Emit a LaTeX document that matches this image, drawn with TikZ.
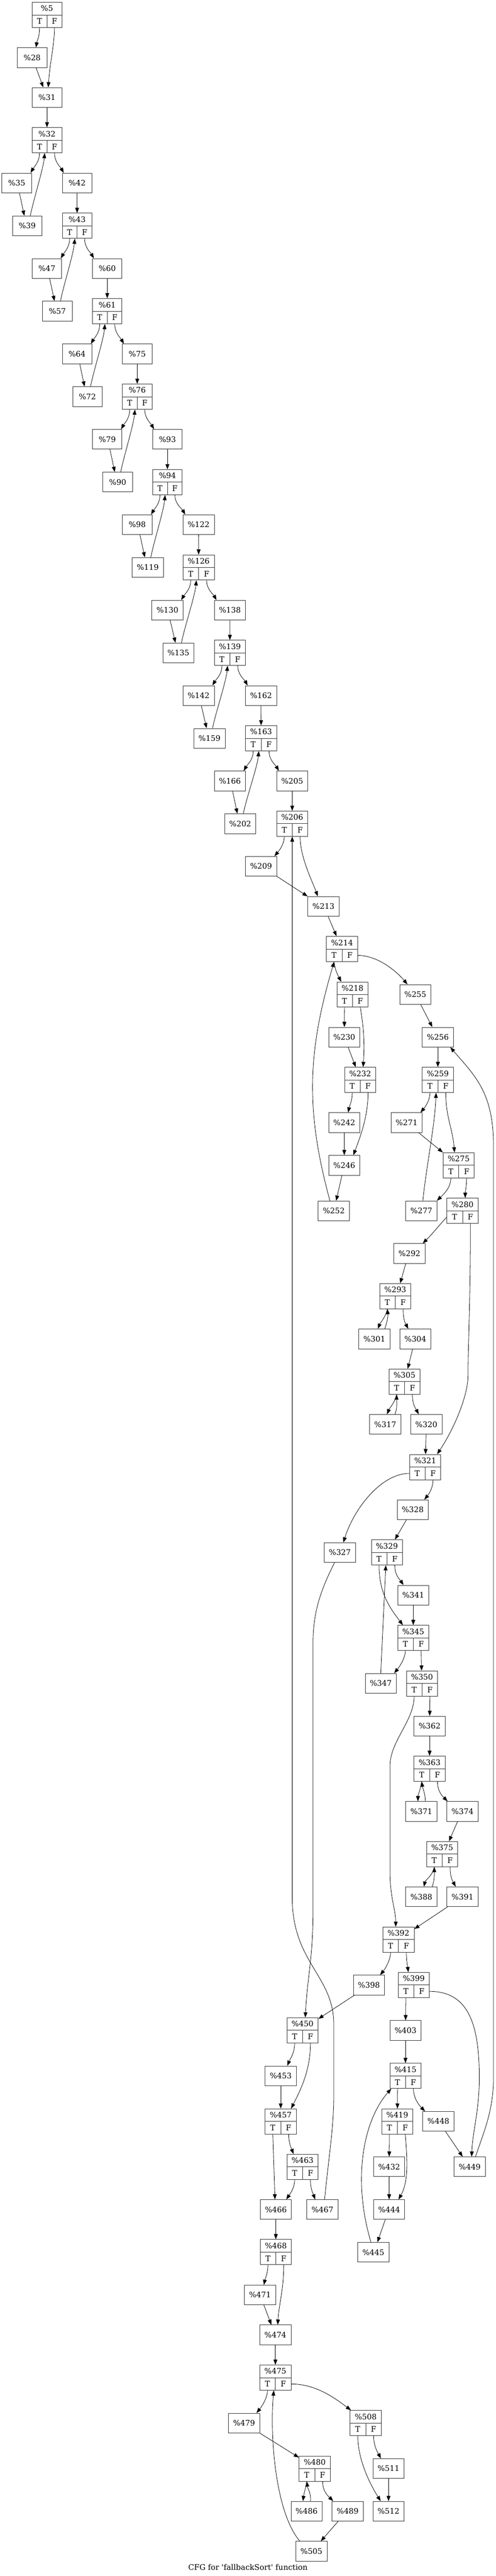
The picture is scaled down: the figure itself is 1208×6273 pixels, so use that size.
\documentclass[tikz,border=0pt]{standalone}
\usepackage{fontspec}
\setmainfont{DejaVu Serif}
\usetikzlibrary{arrows.meta, calc}

\begin{document}
\begin{tikzpicture}[x = 0.75pt, y = -0.75pt, line width = 0.75pt,
	> = {Triangle[length = 9.5pt, width = 7pt]},
	font = \fontsize{14pt}{16pt}\selectfont,
	blk/.style = {draw = black!80, rectangle, minimum width = 54pt, minimum height = 36pt, inner xsep = 8.5pt, inner ysep = 0pt},
	rec/.style = {draw = black!80, rectangle, minimum height = 46pt, inner sep = 0pt}]

\useasboundingbox (0, 0) rectangle (1208, 6273);

\foreach \n/\px/\py in {28/78.3/140.3, 31/114.5/237.3, 35/40.8/445.5, 42/187.8/445.5, 39/66.3/550,
	47/114.3/653.7, 60/261.2/653.7, 57/139.8/757.6, 64/187.7/861.9, 75/334.3/861.9, 72/213/965.8,
	79/261.2/1069.7, 93/407.8/1069.7, 90/286.6/1173.8, 98/334.3/1277.6, 122/483.8/1277.6,
	119/359.8/1381.8, 130/407.8/1485.8, 138/560/1485.8, 135/434.5/1589.8, 142/483.8/1693.8,
	162/635.8/1693.8, 159/510.3/1797.9, 166/559.9/1901.7, 205/711.8/1901.7, 202/585.2/2005.8,
	209/635.9/2109.6, 213/787.9/2207.3, 255/1011.7/2421.7, 230/838.6/2525.6, 256/1066.6/2525.6,
	242/838.6/2733.7, 271/990.5/2733.7, 246/838.6/2837.6, 252/813.1/2948.6, 277/1026.5/2948.6,
	292/997.3/3052.4, 301/911.9/3260.4, 304/1011.7/3260.4, 317/938.4/3468.5, 320/1038.5/3468.5,
	328/1005.3/3676.4, 327/827.9/3780.7, 341/1006.6/3884.4, 347/927.5/4099.1, 362/1046.4/4203.1,
	371/1026.5/4410.9, 374/1126.6/4410.9, 388/1026.5/4619, 391/1126.6/4619, 398/898.6/4833.9,
	403/987.7/4944.3, 453/683.8/5055.1, 448/1067.9/5165.8, 432/947.9/5276.4, 449/1144.1/5276.4,
	466/671.9/5380.6, 467/785.4/5380.6, 444/947.9/5380.6, 445/909.3/5484.7, 471/633.4/5588.6,
	474/670.8/5685.7, 479/594.4/5900.5, 511/946.4/6011.3, 486/746.8/6115.1, 489/846.7/6115.1,
	512/946.4/6115.1, 505/758.6/6212.6}
	\node [blk] (n\n) at (\px, \py) {\%\n};

\foreach \n/\px/\py/\w in {5/114.5/36.3/54, 32/114.5/341.5/54, 43/187.8/549.9/54, 61/261.2/757.8/54,
	76/334.3/966/54, 94/407.8/1174.1/54, 126/483.9/1381.8/57, 139/559.9/1589.9/57, 163/636/1797.8/57,
	206/711.8/2005.8/57, 214/833.1/2311/57, 218/858.5/2421.9/57, 232/877.3/2629.8/57, 259/1066.6/2629.8/57,
	275/1117.3/2837.6/57, 280/1126.6/2948.4/57, 293/962.8/3156.3/57, 305/985.3/3364.4/57, 321/1035.7/3572.4/57,
	329/942.5/3780.3/57, 345/1006.6/3988.5/57, 350/1028/4099.4/57, 363/1046.4/4307/57, 375/1077.1/4515/57,
	392/970.6/4723.3/57, 399/1007.9/4833.7/57, 450/737/4944.1/57, 415/987.7/5055/57, 457/683.8/5166/57,
	419/967.8/5166/57, 463/737/5276.6/57, 468/671.9/5484.1/57, 475/670.8/5789.8/57, 508/890.8/5900.4/57,
	480/766.6/6011.4/57} {
	\node [rec, minimum width = \w pt] (n\n) at (\px, \py) {};
	\draw [black!80] (n\n.west) -- (n\n.east) (n\n.center) -- (n\n.south);
	\node at ($(n\n.north)!0.5!(n\n.center)$) {\%\n};
	\node at ($(n\n.west)!0.5!(n\n.south)$) {T};
	\node at ($(n\n.east)!0.5!(n\n.south)$) {F};
	\coordinate (n\n-T) at ($(n\n.south west)!0.5!(n\n.south)$);
	\coordinate (n\n-F) at ($(n\n.south)!0.5!(n\n.south east)$);
	\coordinate (n\n-Tw) at ($(n\n.west)!0.5!(n\n.south west)$);
	\coordinate (n\n-Fe) at ($(n\n.east)!0.5!(n\n.south east)$);
}

\draw [->] (n5-T) .. controls +(0, 25) and +(3, -20) .. (n28.69);
\draw [->] (n5-F) .. controls +(0, 40) and +(4, -60) .. (n31.83);
\draw [->] (n28.-69) -- (n31.110);
\draw [->] (n31) -- (n32);

\foreach \rr/\ta/\bk/\fc/\nx in {32/35/39/42/43, 43/47/57/60/61, 61/64/72/75/76, 76/79/90/93/94,
	94/98/119/122/126, 126/130/135/138/139, 139/142/159/162/163, 163/166/202/205/206} {
	\draw [->] (n\rr-T) .. controls +(0, 22) and +(8, -14) .. (n\ta.36);
	\draw [->] (n\rr-F) .. controls +(0, 22) and +(-8, -14) .. (n\fc.143);
	\draw [->] (n\ta.-75) -- (n\bk.106);
	\draw [->] (n\bk.73) .. controls +(8, -40) and +(-4, 40) .. (n\rr.-100);
	\draw [->] (n\fc) -- (n\nx);
}

\draw [->] (n206-T) .. controls +(0, 20) and +(10, -12) .. (n209.37);
\draw [->] (n206-F) .. controls +(0, 50) and +(-15, -40) .. (n213.119);
\draw [->] (n209.south east) -- (n213.north west);
\draw [->] (n213.-65) -- (n214.113);
\draw [->] (n214-T) .. controls +(2, 20) and +(-8, -15) .. (n218.131);
\draw [->] (n214-Fe) .. controls +(50, 0) and +(-25, -30) .. (n255.128);
\draw [->] (n218-T) -- (n230);
\draw [->] (n218-F) .. controls +(8, 50) and +(4, -60) .. (n232.77);
\draw [->] (n230.-69) -- (n232.109);
\draw [->] (n232-T) .. controls +(0, 20) and +(3, -15) .. (n242.69);
\draw [->] (n232-F) .. controls +(0, 60) and +(15, -40) .. (n246.48);
\draw [->] (n242) -- (n246);
\draw [->] (n246.-103) -- (n252.77);
\draw [->] (n252.111) .. controls +(-60, -220) and +(-65, 220) .. (n214-T);
\draw [->] (n255.-62) -- (n256.119);
\draw [->] (n256) -- (n259);
\draw [->] (n259-T) .. controls +(0, 20) and +(10, -12) .. (n271.36);
\draw [->] (n259-F) .. controls +(0, 60) and +(-5, -60) .. (n275.108);
\draw [->] (n271.-40) -- (n275.north west);
\draw [->] (n275-T) .. controls +(0, 25) and +(15, -15) .. (n277.33);
\draw [->] (n275-F) .. controls +(0, 20) and +(0, -15) .. (n280.78);
\draw [->] (n277.82) .. controls +(8, -80) and +(-3, 80) .. (n259.-98);
\draw [->] (n280-Tw) .. controls +(-10, 10) and +(25, -25) .. (n292.37);
\draw [->] (n280-F) .. controls +(0, 200) and +(0, -80) .. (1140, 3350) .. controls +(0, 50) and +(40, -60) .. (n321.47);
\draw [->] (n292.-110) -- (n293.69);
\draw [->] (n293-T) .. controls +(-4, 20) and +(6, -15) .. (n301.71);
\draw [->] (n301.44) .. controls +(5, -15) and +(2, 20) .. (n293-T);
\draw [->] (n293-F) .. controls +(0, 25) and +(-8, -15) .. (n304.125);
\draw [->] (n304.-105) -- (n305.76);
\draw [->] (n305-T) .. controls +(-4, 20) and +(6, -15) .. (n317.80);
\draw [->] (n317.46) .. controls +(6, -15) and +(0, 18) .. (n305-T);
\draw [->] (n305-F) .. controls +(0, 25) and +(-8, -15) .. (n320.127);
\draw [->] (n320) -- (n321);
\draw [->] (n321-Tw) .. controls +(-70, 0) and +(25, -80) .. (n327.71);
\draw [->] (n321-F) .. controls +(0, 20) and +(10, -12) .. (n328.41);
\draw [->] (n328.-122) -- (n329.58);
\draw [->] (n329-T) .. controls +(0, 70) and +(-30, -40) .. (n345.129);
\draw [->] (n329-F) .. controls +(0, 25) and +(-10, -15) .. (n341.134);
\draw [->] (n341) -- (n345);
\draw [->] (n345-T) .. controls +(0, 20) and +(10, -12) .. (n347.37);
\draw [->] (n345-F) -- (n350.92);
\draw [->] (n347.north) -- (n329.265);
\draw [->] (n350-T) .. controls +(0, 60) and +(0, -60) .. (950, 4300) -- (950, 4560) .. controls +(0, 60) and +(0, -40) .. (n392.102);
\draw [->] (n350-F) -- (n362);
\draw [->] (n362) -- (n363);
\draw [->] (n363-T) .. controls +(-3, 20) and +(0, -15) .. (n371.109);
\draw [->] (n371.69) .. controls +(0, -20) and +(2, 15) .. (n363-T);
\draw [->] (n363-F) .. controls +(0, 25) and +(-12, -12) .. (n374.146);
\draw [->] (n374.-116) -- (n375.62);
\draw [->] (n375-T) .. controls +(-3, 20) and +(3, -15) .. (n388.76);
\draw [->] (n388.43) .. controls +(6, -18) and +(0, 18) .. (n375-T);
\draw [->] (n375-F) .. controls +(0, 25) and +(-8, -15) .. (n391.124);
\draw [->] (n391.-146) -- (n392.34);
\draw [->] (n392-T) .. controls +(0, 20) and +(10, -12) .. (n398.42);
\draw [->] (n392-F) .. controls +(0, 20) and +(-2, -15) .. (n399.113);
\draw [->] (n398.-145) -- (n450.36);
\draw [->] (n327.-118) .. controls +(-30, 60) and +(0, -80) .. (762.5, 4000) -- (762.5, 4650) .. controls +(0, 120) and +(5, -100) .. (n450.78);
\draw [->] (n399-T) -- (n403);
\draw [->] (n399-Fe) .. controls +(95, 0) and +(0, -130) .. (1167.5, 5060) .. controls +(0, 80) and +(2, -60) .. (n449.79);
\draw [->] (n403) -- (n415);
\draw [->] (n415-T) -- (n419);
\draw [->] (n415-F) .. controls +(0, 25) and +(-12, -12) .. (n448.143);
\draw [->] (n445.103) .. controls +(-45, -150) and +(-70, 80) .. (n415.-138);
\draw [->] (n419-T) -- (n432);
\draw [->] (n419-F) .. controls +(5, 60) and +(25, -45) .. (n444.47);
\draw [->] (n432) -- (n444);
\draw [->] (n444.-111) -- (n445.68);
\draw [->] (n448.-55) -- (n449.125);
\draw [->] (n449.60) .. controls +(20, -60) and +(0, 80) .. (1202, 5060) -- (1202, 2790) .. controls +(0, -130) and +(60, 70) .. (n256.-39);
\draw [->] (n450-T) .. controls +(0, 25) and +(6, -15) .. (n453.57);
\draw [->] (n450-F) .. controls +(0, 70) and +(20, -40) .. (n457.51);
\draw [->] (n453) -- (n457);
\draw [->] (n457-T) -- (n466.95);
\draw [->] (n457-F) .. controls +(0, 20) and +(-6, -15) .. (n463.125);
\draw [->] (n463-T) .. controls +(0, 20) and +(10, -15) .. (n466.44);
\draw [->] (n463-F) .. controls +(0, 25) and +(-5, -15) .. (n467.126);
\draw [->] (n467.78) .. controls +(12, -120) and +(0, 80) .. (813, 5100) -- (813, 4930) .. controls +(0, -120) and +(0, 160) .. (711.8, 4620) -- (n206.south);
\draw [->] (n466) -- (n468);
\draw [->] (n468-T) .. controls +(0, 20) and +(3, -15) .. (n471.69);
\draw [->] (n468-F) .. controls +(0, 60) and +(3, -50) .. (n474.77);
\draw [->] (n471.-69) -- (n474.112);
\draw [->] (n474) -- (n475);
\draw [->] (n475-T) .. controls +(0, 20) and +(10, -12) .. (n479.39);
\draw [->] (n475-Fe) .. controls +(60, 0) and +(-40, -30) .. (n508.139);
\draw [->] (n479.south east) -- (n480.145);
\draw [->] (n480-T) .. controls +(-4, 20) and +(2, -15) .. (n486.110);
\draw [->] (n486.69) .. controls +(2, -20) and +(2, 18) .. (n480-T);
\draw [->] (n480-F) .. controls +(0, 25) and +(-12, -12) .. (n489.145);
\draw [->] (n489.-133) -- (n505.47);
\draw [->] (n505.139) .. controls +(-60, -70) and +(-10, 110) .. (n475.-97);
\draw [->] (n508-T) .. controls +(0, 60) and +(-25, -40) .. (n512.128);
\draw [->] (n508-F) .. controls +(0, 25) and +(-8, -15) .. (n511.127);
\draw [->] (n511) -- (n512);

\node (cap) at (604, 6251) {CFG for \textquotesingle fallbackSort\textquotesingle{} function};

\end{tikzpicture}
\end{document}
